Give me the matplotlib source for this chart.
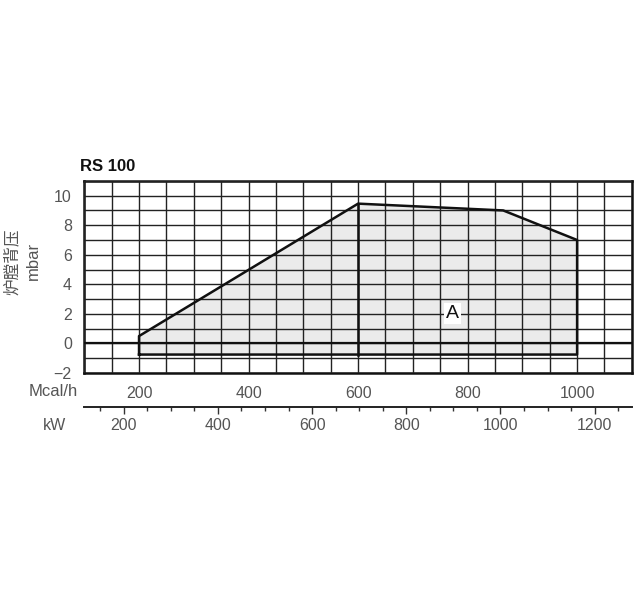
import numpy as np
import matplotlib
matplotlib.use("Agg")
import matplotlib.pyplot as plt
from matplotlib.ticker import MultipleLocator, FixedLocator

plt.rcParams['font.family'] = ['Liberation Sans', 'Noto Sans CJK SC', 'DejaVu Sans']

# working field of the burner (Mcal/h, mbar)
field_mcal = [200, 200, 600, 865, 1000, 1000, 200]
field_mbar = [-0.75, 0.5, 9.46, 9.0, 7.0, -0.75, -0.75]
split_mcal = 600
split_mbar = [-0.75, 9.46]

mcal_ticks = [200, 400, 600, 800, 1000]
kw_ticks = [200, 400, 600, 800, 1000, 1200]
y_ticks = [-2, 0, 2, 4, 6, 8, 10]
kw_per_mcal = 1 / 0.86

fig = plt.figure(figsize=(6.36, 5.94), dpi=100)
ax = fig.add_axes([0.1325, 0.372, 0.861, 0.3235])

ax.set_xlim(100, 1100)
ax.set_ylim(-2, 11)

ax.fill(field_mcal, field_mbar, color='#ebebeb', zorder=1)
ax.xaxis.set_minor_locator(MultipleLocator(50))
ax.yaxis.set_minor_locator(MultipleLocator(1))
ax.grid(True, which='both', color='#222222', linewidth=1.0, zorder=2)
ax.set_axisbelow(False)
ax.axhline(0, color='#111111', linewidth=1.6, zorder=3)
ax.plot(field_mcal, field_mbar, color='#111111', linewidth=1.8, zorder=4)
ax.plot([split_mcal, split_mcal], split_mbar, color='#111111', linewidth=1.8, zorder=4)

ax.text(773, 2.05, 'A', fontsize=14, ha='center', va='center', color='#111111',
        bbox=dict(facecolor='white', edgecolor='none', pad=1.5), zorder=5)

for s in ax.spines.values():
    s.set_linewidth(1.8)
    s.set_color('#111111')

ax.set_xticks(mcal_ticks)
ax.set_yticks(y_ticks)
ax.set_yticklabels(['\u22122' if v < 0 else str(v) for v in y_ticks])
ax.tick_params(which='both', length=0, labelsize=11.5, labelcolor='#555555')
ax.tick_params(axis='x', pad=9)
ax.tick_params(axis='y', pad=9)

ax.text(-0.007, 1.035, 'RS 100', transform=ax.transAxes, fontsize=12, fontweight='bold',
        ha='left', va='bottom', color='#111111')

fig.text(0.019, 0.56, '炉膛背压', rotation=90, ha='center', va='center', fontsize=12,
         color='#555555', family=['Noto Sans CJK SC', 'DejaVu Sans'])
fig.text(0.053, 0.56, 'mbar', rotation=90, ha='center', va='center', fontsize=12,
         color='#555555')

fig.text(0.123, 1 - 392 / 594, 'Mcal/h', ha='right', va='center', fontsize=12,
         color='#555555')
fig.text(0.085, 1 - 425 / 594, 'kW', ha='center', va='center', fontsize=11.5,
         color='#555555')

kw = ax.secondary_xaxis(-0.178, functions=(lambda x: x * kw_per_mcal,
                                            lambda x: x / kw_per_mcal))
kw.set_xticks(kw_ticks)
kw.xaxis.set_major_locator(FixedLocator(kw_ticks))
kw.xaxis.set_minor_locator(FixedLocator([v for v in range(150, 1300, 50) if v % 200 != 0]))
kw.spines['bottom'].set_linewidth(1.4)
kw.spines['bottom'].set_color('#222222')
kw.tick_params(which='major', length=5, width=1, direction='out', color='#333333',
               labelsize=11.5, labelcolor='#555555', pad=3)
kw.tick_params(which='minor', length=3, width=1, direction='out', color='#333333')

fig.savefig('out.png', dpi=100)
